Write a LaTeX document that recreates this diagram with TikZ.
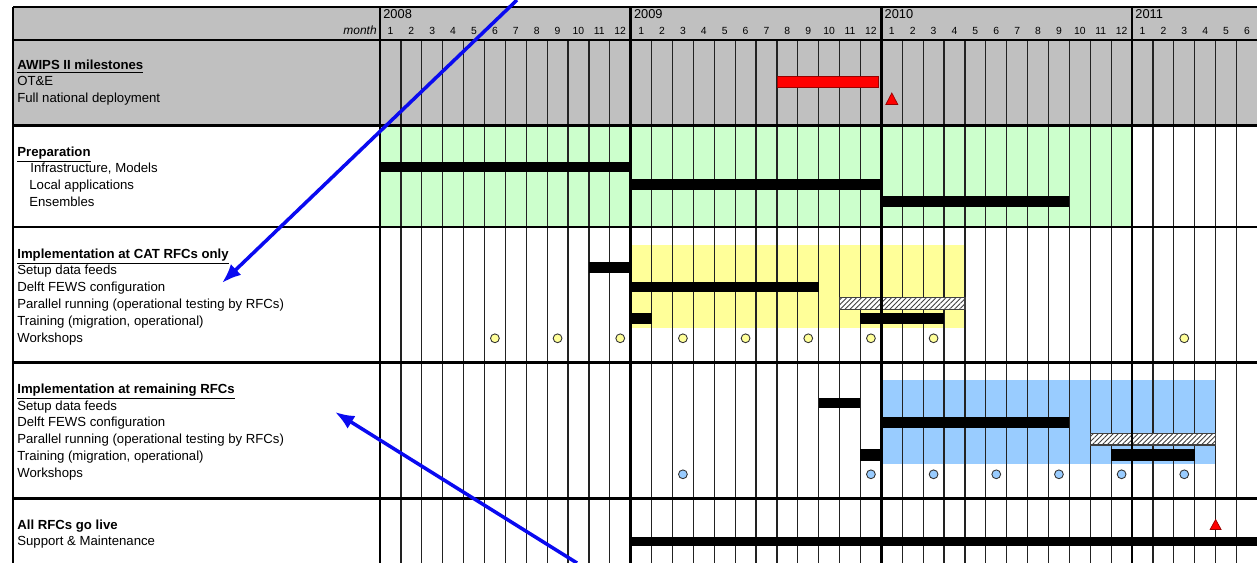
\documentclass[tikz,border=0pt]{standalone}
\usepackage{fontspec}
\setmainfont{Liberation Sans}
\usetikzlibrary{arrows.meta,positioning,patterns.meta}
\definecolor{hdrgray}{HTML}{C0C0C0}
\definecolor{prepgreen}{HTML}{CCFFCC}
\definecolor{catyellow}{HTML}{FFFF99}
\definecolor{restblue}{HTML}{99CCFF}
\definecolor{gridline}{HTML}{222222}
\definecolor{pointer}{HTML}{0A0AF0}
\newcommand{\mpos}[1]{380+20.89*(#1)}

\begin{document}
\begin{tikzpicture}[x=0.02cm, y=-0.02cm, font=\fontsize{7.5}{8}\selectfont,
    node distance=0.34cm, on grid,
    lbl/.style={inner sep=0pt, anchor=base west},
    head/.style={lbl, font=\fontsize{7.5}{8}\selectfont\bfseries},
    mnum/.style={inner sep=0pt, anchor=base, font=\fontsize{5.9}{6}\selectfont},
    yr/.style={inner sep=0pt, anchor=base west, font=\fontsize{7.3}{8}\selectfont},
    frame/.style={line width=1.4pt, black},
    monthline/.style={line width=0.7pt, gridline},
    bar/.style={fill=black},
    hatchbar/.style={draw=gray!50!black, line width=0.7pt, fill=white,
      postaction={pattern={Lines[angle=45, distance=2pt, line width=0.5pt]}, pattern color=black!75}},
    redmark/.style={fill=red, draw=red!60!black, line width=0.4pt},
    dot/.style={draw=black!80, line width=0.5pt},
    pointer/.style={draw=pointer, line width=2pt, -{Latex[length=11pt,width=8.5pt]}}]
  \useasboundingbox (0,0) rectangle (1257,563);

  \fill[hdrgray] (13,7) rectangle (1257,125.5);
  \fill[prepgreen] ({\mpos{0}},125.5) rectangle ({\mpos{36}},227);
  \fill[catyellow] ({\mpos{12}},245) rectangle ({\mpos{28}},328);
  \fill[restblue] ({\mpos{24}},380.5) rectangle ({\mpos{40}},464);

  \foreach \i in {1,...,41}
    \draw[monthline] ({\mpos{\i}},40) -- ({\mpos{\i}},563);

  \fill[red, draw=red!60!black, line width=0.4pt] ({\mpos{19}},76) rectangle (878.5,87.3);
  \fill[bar] ({\mpos{0}},161.7) rectangle ({\mpos{12}},172.5);
  \fill[bar] ({\mpos{12}},179.5) rectangle ({\mpos{24}},190.3);
  \fill[bar] ({\mpos{24}},196) rectangle ({\mpos{33}},206.8);
  \fill[bar] ({\mpos{10}},262.3) rectangle ({\mpos{12}},272.7);
  \fill[bar] ({\mpos{12}},281.7) rectangle ({\mpos{21}},292.3);
  \draw[hatchbar] ({\mpos{22}},297.7) rectangle ({\mpos{28}},309.3);
  \fill[bar] ({\mpos{12}},313) rectangle ({\mpos{13}},324);
  \fill[bar] ({\mpos{23}},313) rectangle ({\mpos{27}},324);
  \fill[bar] ({\mpos{21}},397.8) rectangle ({\mpos{23}},408.5);
  \fill[bar] ({\mpos{24}},417.2) rectangle ({\mpos{33}},427.8);
  \draw[hatchbar] ({\mpos{34}},433.3) rectangle ({\mpos{40}},445);
  \fill[bar] ({\mpos{23}},449.3) rectangle ({\mpos{24}},460.7);
  \fill[bar] ({\mpos{35}},449.3) rectangle ({\mpos{39}},460.7);
  \fill[bar] ({\mpos{12}},536.7) rectangle (1257,545.7);

  \foreach \i in {5.5,8.5,11.5,14.5,17.5,20.5,23.5,26.5,38.5}
    \filldraw[dot, fill=catyellow] ({\mpos{\i}},338.3) circle[radius=2.5pt];
  \foreach \i in {14.5,23.5,26.5,29.5,32.5,35.5,38.5}
    \filldraw[dot, fill=restblue] ({\mpos{\i}},474.3) circle[radius=2.5pt];

  \filldraw[redmark] ({\mpos{24.5}-6},104.5) -- ({\mpos{24.5}+6},104.5) -- ({\mpos{24.5}},93) -- cycle;
  \filldraw[redmark] ({\mpos{40}-5.5},529.5) -- ({\mpos{40}+5.5},529.5) -- ({\mpos{40}},519.5) -- cycle;

  \foreach \yy in {7,40,125.5,227,362.5,498.5}
    \draw[frame] (13,\yy) -- (1257,\yy);
  \draw[frame] (13,7) -- (13,563);
  \foreach \i in {0,12,24,36}
    \draw[frame] ({\mpos{\i}},7) -- ({\mpos{\i}},563);

  \foreach \yv/\i in {2008/0,2009/12,2010/24,2011/36}
    \node[yr] (y\yv) at ({\mpos{\i}+3},18.5) {\yv};
  \foreach \i in {0,...,41}{
    \pgfmathtruncatemacro{\mm}{mod(\i,12)+1}
    \node[mnum] (m\i) at ({\mpos{\i+0.5}},35) {\mm};
  }
  \node[inner sep=0pt, anchor=base east, font=\fontsize{6.8}{8}\selectfont\itshape] (mlabel) at (377,35) {month};

  \node[head] (awips) at (17,69.5) {\underline{AWIPS II milestones}};
  \node[below=0.33cm of awips.base west, lbl] (ote) {OT\&E};
  \node[below=0.33cm of ote.base west, lbl] (fnd) {Full national deployment};

  \node[head] (prep) at (17,156.5) {\underline{Preparation}};
  \node[lbl] (infra) at (30,172.5) {Infrastructure, Models};
  \node[below=of infra.base west, lbl, xshift=-0.02cm] (locapp) {Local applications};
  \node[below=of locapp.base west, lbl] (ens) {Ensembles};

  \node[head] (cat) at (17,258.5) {\underline{Implementation at CAT RFCs only}};
  \node[below=0.33cm of cat.base west, lbl] (catfeed) {Setup data feeds};
  \node[below=of catfeed.base west, lbl] (catfews) {Delft FEWS configuration};
  \node[below=of catfews.base west, lbl] (catpar) {Parallel running (operational testing by RFCs)};
  \node[below=of catpar.base west, lbl] (cattrain) {Training (migration, operational)};
  \node[below=of cattrain.base west, lbl] (catshop) {Workshops};

  \node[head] (rest) at (17,393.5) {\underline{Implementation at remaining RFCs}};
  \node[below=0.335cm of rest.base west, lbl] (restfeed) {Setup data feeds};
  \node[below=0.335cm of restfeed.base west, lbl] (restfews) {Delft FEWS configuration};
  \node[below=0.335cm of restfews.base west, lbl] (restpar) {Parallel running (operational testing by RFCs)};
  \node[below=0.335cm of restpar.base west, lbl] (resttrain) {Training (migration, operational)};
  \node[below=0.335cm of resttrain.base west, lbl] (restshop) {Workshops};

  \node[head] (live) at (17,529.5) {All RFCs go live};
  \node[below=0.33cm of live.base west, lbl] (support) {Support \& Maintenance};

  \coordinate (ptrA) at (517,0);
  \coordinate (ptrAend) at (222,283);
  \coordinate (ptrB) at (577,563);
  \coordinate (ptrBend) at (335,412);
  \draw[pointer] (ptrA) -- (ptrAend);
  \draw[pointer] (ptrB) -- (ptrBend);
\end{tikzpicture}
\end{document}
